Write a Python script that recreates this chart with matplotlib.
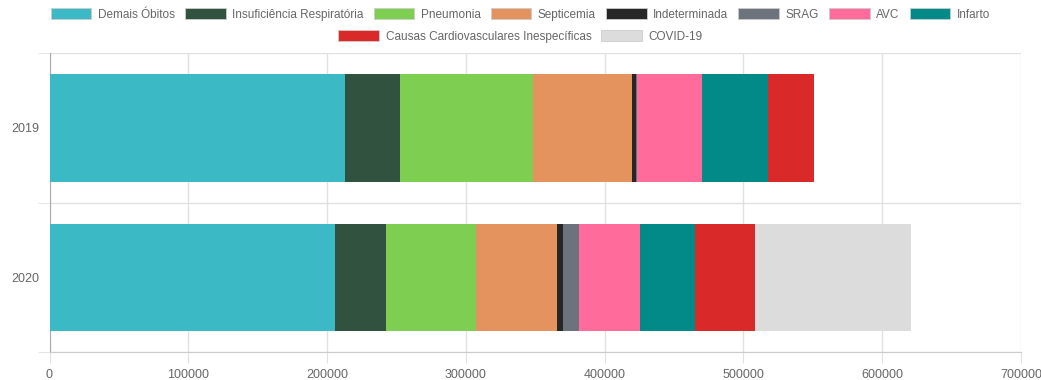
import matplotlib
matplotlib.use("Agg")
import matplotlib.pyplot as plt
from matplotlib.patches import Patch

plt.rcParams['font.family'] = ['Liberation Sans', 'DejaVu Sans']

years = ['2019', '2020']
causes = ['Demais Óbitos', 'Insuficiência Respiratória', 'Pneumonia', 'Septicemia',
          'Indeterminada', 'SRAG', 'AVC', 'Infarto',
          'Causas Cardiovasculares Inespecíficas', 'COVID-19']
colors = ['#3bbac6', '#31523f', '#7ece52', '#e4925e', '#262626', '#6c737c',
          '#ff6b9a', '#018a87', '#d92929', '#dcdcdc']

# deaths per cause, [2019, 2020]
demais = [212700, 206000]
insuf = [39600, 36200]
pneumonia = [96200, 65200]
septicemia = [71100, 58400]
indeterminada = [2900, 4100]
srag = [700, 11700]
avc = [46900, 43800]
infarto = [47300, 39900]
cardio = [33700, 43000]
covid = [0, 112500]
series = [demais, insuf, pneumonia, septicemia, indeterminada, srag, avc,
          infarto, cardio, covid]

W, H = 1041, 380
fig = plt.figure(figsize=(W / 100, H / 100), dpi=100)
ax = fig.add_axes([49.5 / W, (H - 352.3) / H, (1021 - 49.5) / W, (352.3 - 53) / H])

grid_c = '#e1e1e1'
txt_c = '#666666'

ypos = range(len(years))
left = [0] * len(years)
for vals, col in zip(series, colors):
    ax.barh(ypos, vals, left=left, height=0.72, color=col, zorder=3)
    left = [a + b for a, b in zip(left, vals)]

ax.set_xlim(0, 700000)
ax.set_ylim(1.5, -0.5)
ax.set_xticks(range(0, 700001, 100000))
ax.set_xticklabels([str(v) for v in range(0, 700001, 100000)])
ax.set_yticks([0, 1])
ax.set_yticklabels(years)
ax.set_yticks([-0.5, 0.5, 1.5], minor=True)

ax.grid(True, axis='x', color=grid_c, lw=1, zorder=0)
ax.grid(True, axis='y', which='minor', color=grid_c, lw=1, zorder=0)
ax.tick_params(axis='x', length=8, color=grid_c, labelcolor=txt_c, labelsize=9, pad=4)
ax.tick_params(axis='y', which='major', length=0, labelcolor=txt_c, labelsize=9, pad=7)
ax.tick_params(axis='y', which='minor', length=9, color=grid_c)

for s in ['top', 'right']:
    ax.spines[s].set_visible(False)
ax.spines['left'].set_color('#aaaaaa')
ax.spines['bottom'].set_color('#cccccc')

handles = [Patch(facecolor=c, edgecolor='#cccccc', lw=0.6) for c in colors]
common = dict(frameon=False, fontsize=8.5, labelcolor=txt_c, handlelength=3.45,
              handleheight=1.1, handletextpad=0.55, columnspacing=0.85,
              borderaxespad=0, borderpad=0)
fig.legend(handles[:8], causes[:8], ncol=8, loc='center',
           bbox_to_anchor=(0.5, 1 - 14.5 / H), **common)
fig.legend(handles[8:], causes[8:], ncol=2, loc='center',
           bbox_to_anchor=(0.5, 1 - 36.5 / H), **common)

fig.savefig('out.png', dpi=100)
